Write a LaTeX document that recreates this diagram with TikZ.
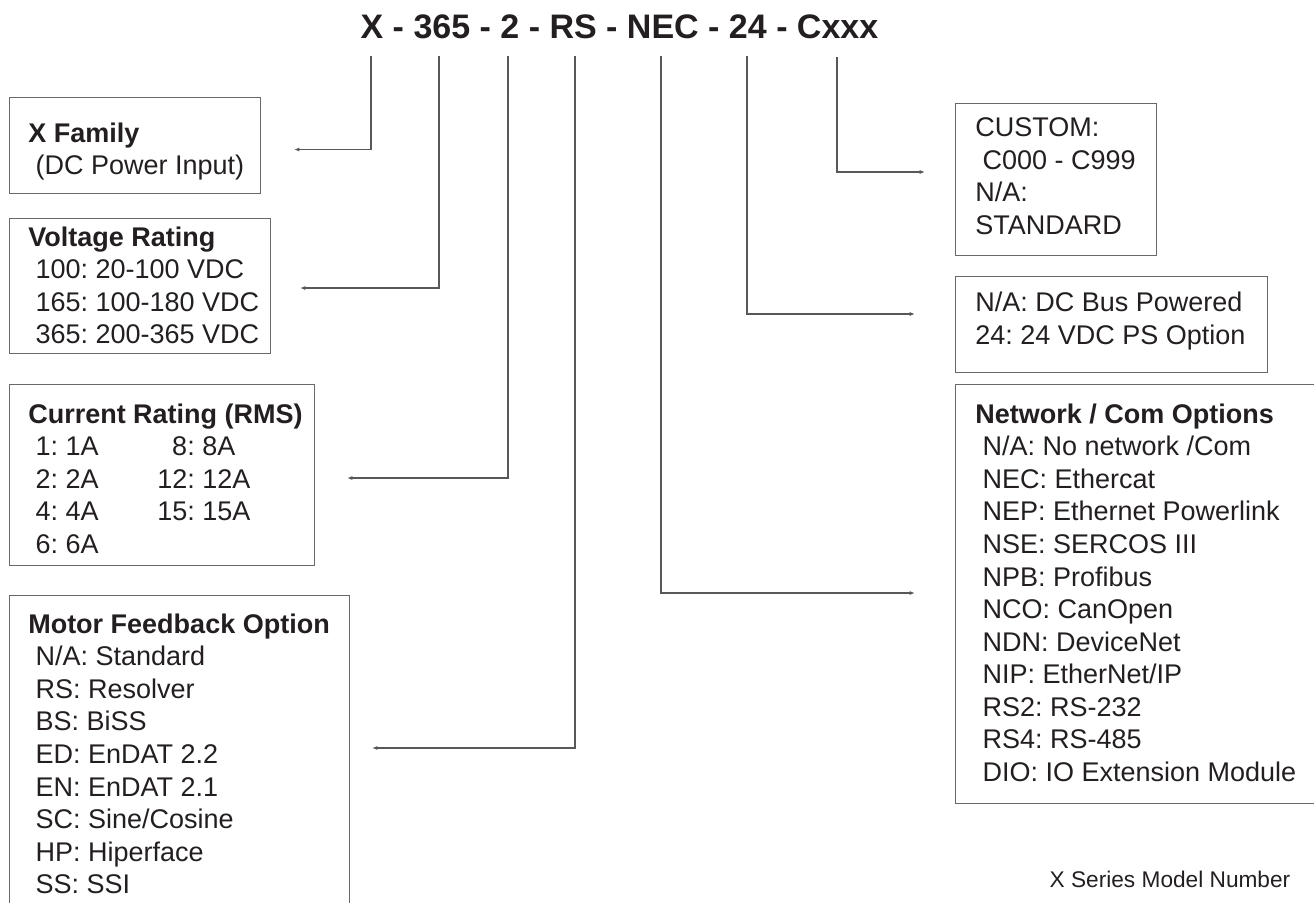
\documentclass[tikz,border=0pt]{standalone}
\usepackage{fontspec}
\setmainfont{Liberation Sans}
\usetikzlibrary{arrows.meta}
\definecolor{linegray}{RGB}{88,88,88}
\definecolor{boxgray}{RGB}{105,105,105}
\definecolor{inkdark}{RGB}{35,31,32}
\newcommand{\indt}{\hspace*{5.5pt}}
\frenchspacing
\begin{document}
\begin{tikzpicture}[x=0.75pt, y=-0.75pt,
    every node/.style={font=\fontsize{20.25pt}{24.4pt}\selectfont, text=inkdark},
    optbox/.style={draw=boxgray, line width=0.8pt, anchor=north west, inner sep=0pt},
    opttext/.style={anchor=north west, inner sep=0pt, align=left},
    conn/.style={draw=linegray, line width=0.8pt, -{Latex[length=4pt,width=3pt]}}]
    \useasboundingbox (0,0) rectangle (1314,903);
    \node[anchor=base, font=\fontsize{25.5pt}{30pt}\selectfont\bfseries] (code) at (619.5,38) {X - 365 - 2 - RS - NEC - 24 - Cxxx};
    % left column
    \node[optbox, minimum width=188.25pt, minimum height=72pt] (famb) at (9,97) {};
    \node[opttext] (famt) at (28,122.5) {\textbf{X Family}\\\indt(DC Power Input)};
    \node[optbox, minimum width=195.75pt, minimum height=101.25pt] (voltb) at (9,218) {};
    \node[opttext] (voltt) at (28,226.5) {\textbf{Voltage Rating}\\\indt 100: 20-100 VDC\\\indt 165: 100-180 VDC\\\indt 365: 200-365 VDC};
    \node[optbox, minimum width=228.75pt, minimum height=135.75pt] (currb) at (9,384) {};
    \node[opttext] (currt) at (28,403.5) {\textbf{Current Rating (RMS)}\\
        \makebox[96.75pt][l]{\indt 1: 1A}\hspace*{11.25pt}8: 8A\\
        \makebox[96.75pt][l]{\indt 2: 2A}12: 12A\\
        \makebox[96.75pt][l]{\indt 4: 4A}15: 15A\\
        \indt 6: 6A};
    \node[optbox, minimum width=255pt, minimum height=240pt] (motb) at (9,595) {};
    \node[opttext] (mott) at (28,613.5) {\textbf{Motor Feedback Option}\\\indt N/A: Standard\\\indt RS: Resolver\\\indt BS: BiSS\\\indt ED: EnDAT 2.2\\\indt EN: EnDAT 2.1\\\indt SC: Sine/Cosine\\\indt HP: Hiperface\\\indt SS: SSI};
    % right column
    \node[optbox, minimum width=150.75pt, minimum height=114pt] (custb) at (955,103) {};
    \node[opttext] (custt) at (975,117.5) {CUSTOM:\\\indt C000 - C999\\N/A:\\STANDARD};
    \node[optbox, minimum width=234pt, minimum height=72pt] (pwrb) at (955,276) {};
    \node[opttext] (pwrt) at (975,292) {N/A: DC Bus Powered\\24: 24 VDC PS Option};
    \node[optbox, minimum width=281.25pt, minimum height=314.25pt] (netb) at (955,384) {};
    \node[opttext] (nett) at (975,403.5) {\textbf{Network / Com Options}\\\indt N/A: No network /Com\\\indt NEC: Ethercat\\\indt NEP: Ethernet Powerlink\\\indt NSE: SERCOS III\\\indt NPB: Profibus\\\indt NCO: CanOpen\\\indt NDN: DeviceNet\\\indt NIP: EtherNet/IP\\\indt RS2: RS-232\\\indt RS4: RS-485\\\indt DIO: IO Extension Module};
    \node[anchor=base east, font=\fontsize{17pt}{20pt}\selectfont] (capt) at (1295,887) {X Series Model Number};
    % connectors from the code
    \coordinate (tX) at (371,56);   \coordinate (eX) at (294,149.5);
    \coordinate (tV) at (439,56);   \coordinate (eV) at (300,288);
    \coordinate (tI) at (508,56);   \coordinate (eI) at (347,478);
    \coordinate (tF) at (575,56);   \coordinate (eF) at (372,748);
    \coordinate (tN) at (661,56);   \coordinate (eN) at (915,593);
    \coordinate (tP) at (747,56);   \coordinate (eP) at (915,314);
    \coordinate (tC) at (837,57);   \coordinate (eC) at (925,172);
    \draw[conn] (tX) |- (eX);
    \draw[conn] (tV) |- (eV);
    \draw[conn] (tI) |- (eI);
    \draw[conn] (tF) |- (eF);
    \draw[conn] (tN) |- (eN);
    \draw[conn] (tP) |- (eP);
    \draw[conn] (tC) |- (eC);
\end{tikzpicture}
\end{document}
